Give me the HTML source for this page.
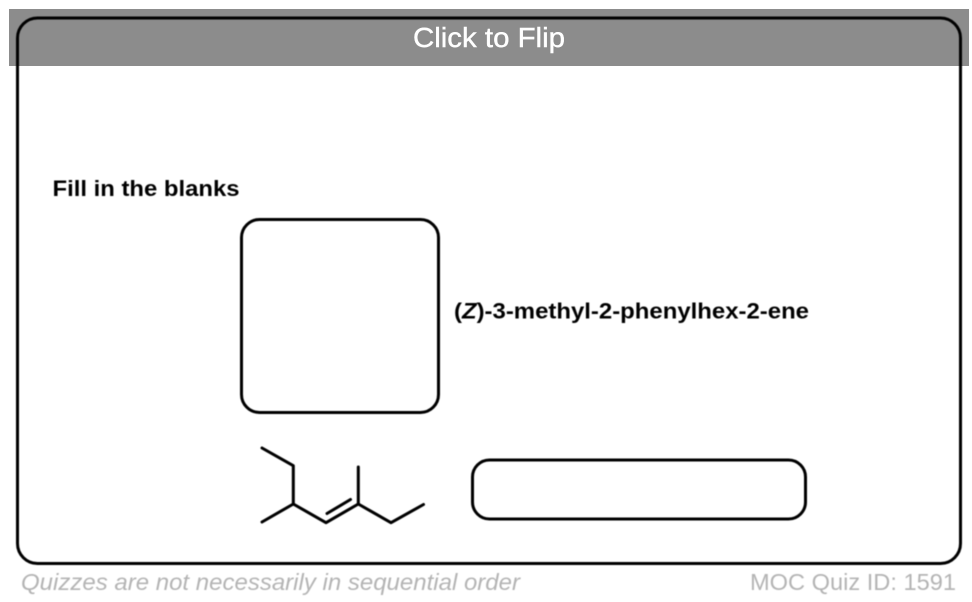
<!DOCTYPE html>
<html><head><meta charset="utf-8"><style>
html,body{margin:0;padding:0;background:#fff;width:972px;height:602px;overflow:hidden}
svg{display:block;font-family:"Liberation Sans",sans-serif}
.s{filter:blur(0.4px)}
</style></head><body>
<svg width="972" height="602" viewBox="0 0 972 602" xmlns="http://www.w3.org/2000/svg">
<rect width="972" height="602" fill="#fff"/>
<rect class="s" x="17.5" y="18" width="943" height="545.5" rx="20" fill="#fff" stroke="#000" stroke-width="3"/>
<rect x="9" y="9" width="960" height="57" fill="#000" fill-opacity="0.45"/>
<text x="489" y="47" text-anchor="middle" font-size="28" fill="#fff" stroke="#fff" stroke-width="0.4" textLength="152" lengthAdjust="spacingAndGlyphs">Click to Flip</text>
<g class="s">
<text x="52.5" y="196" font-size="22.5" font-weight="bold" fill="#000" textLength="187" lengthAdjust="spacingAndGlyphs">Fill in the blanks</text>
<rect x="241.5" y="219.5" width="197" height="193" rx="18" fill="#fff" stroke="#000" stroke-width="3"/>
<text x="454" y="318.5" font-size="22.5" font-weight="bold" fill="#000" textLength="355" lengthAdjust="spacingAndGlyphs">(<tspan font-style="italic">Z</tspan>)-3-methyl-2-phenylhex-2-ene</text>
<g fill="none" stroke="#000" stroke-width="3" stroke-linecap="round" stroke-linejoin="round">
<polyline points="262,448 293.3,465.7 293.3,504 262,522"/>
<polyline points="293.3,504 326,522.7 358.3,504 391,522.7 423.5,504.5"/>
<line x1="358.3" y1="504" x2="358.3" y2="467"/>
<line x1="327" y1="513.5" x2="350.5" y2="499.5"/>
</g>
<rect x="472.5" y="460" width="333" height="59" rx="17" fill="#fff" stroke="#000" stroke-width="3"/>
<text x="21" y="590" font-size="23" font-style="italic" fill="#b4b4b4" textLength="499" lengthAdjust="spacingAndGlyphs">Quizzes are not necessarily in sequential order</text>
<text x="750" y="590" font-size="23" fill="#b4b4b4" textLength="206" lengthAdjust="spacingAndGlyphs">MOC Quiz ID: 1591</text>
</g>
</svg>
</body></html>
